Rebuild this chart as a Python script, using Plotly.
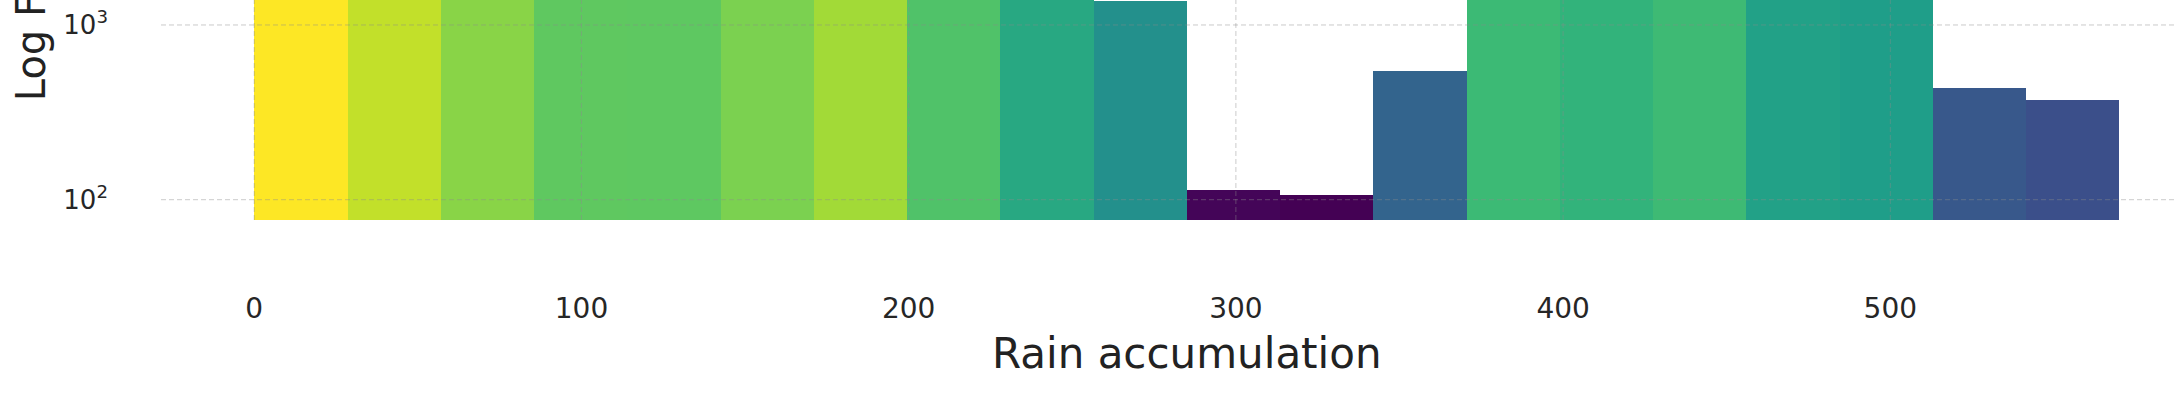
import numpy as np
import plotly.graph_objects as go

# ---- data ----
bin_left = [0, 28.5, 57, 85.5, 114, 142.5, 171, 199.5, 228, 256.5,
            285, 313.5, 342, 370.5, 399, 427.5, 456, 484.5, 513, 541.5]
bin_width = 28.5
counts = [17600, 11100, 7000, 4900, 4850, 6300, 8600, 4200, 2300, 1370,
          114, 107, 546, 3450, 2950, 3500, 1960, 1820, 434, 374]

x_ticks = [0, 100, 200, 300, 400, 500]
y_ticks = [100, 1000]
y_tick_text = ["10<sup>2</sup>", "10<sup>3</sup>"]
x_title = "Rain accumulation"
y_title = "Log Frequency"

logc = np.log10(counts)

fig = go.Figure(
    go.Bar(
        x=bin_left,
        y=counts,
        width=bin_width,
        offset=0,
        marker=dict(
            color=logc,
            colorscale="Viridis",
            cmin=float(logc.min()),
            cmax=float(logc.max()),
            line=dict(width=0),
        ),
        showlegend=False,
    )
)

grid_color = "rgba(140,140,140,0.45)"
grid_dash = "5px,3px"
shapes = []
for xv in x_ticks:
    shapes.append(dict(type="line", xref="x", yref="paper", x0=xv, x1=xv, y0=0, y1=1,
                       line=dict(color=grid_color, width=1, dash=grid_dash), layer="above"))
for yv in y_ticks:
    shapes.append(dict(type="line", xref="paper", yref="y", x0=0, x1=1, y0=yv, y1=yv,
                       line=dict(color=grid_color, width=1, dash=grid_dash), layer="above"))

fig.update_layout(
    width=2174,
    height=416,
    margin=dict(l=161, r=0, t=0, b=196, pad=0),
    paper_bgcolor="white",
    plot_bgcolor="white",
    bargap=0,
    font=dict(family="DejaVu Sans", color="#262626"),
    shapes=shapes,
    xaxis=dict(
        range=[-28.5, 586.7],
        tickvals=x_ticks,
        ticktext=[str(v) for v in x_ticks],
        showgrid=False,
        zeroline=False,
        showline=False,
        ticks="",
        ticklabelstandoff=69,
        tickfont=dict(size=28, color="#262626"),
    ),
    yaxis=dict(
        type="log",
        range=[1.8838, 3.143],
        tickvals=y_ticks,
        ticktext=y_tick_text,
        showgrid=False,
        zeroline=False,
        showline=False,
        ticks="",
        ticklabelstandoff=52,
        tickfont=dict(size=26, color="#262626"),
    ),
    annotations=[
        dict(text=x_title, xref="paper", yref="paper", x=0.5097, y=-0.606,
             xanchor="center", yanchor="middle", showarrow=False,
             font=dict(size=42, color="#222222")),
        dict(text=y_title, xref="paper", yref="paper", x=-0.0646, y=0.533,
             xanchor="center", yanchor="bottom", textangle=-90, showarrow=False,
             font=dict(size=40, color="#222222")),
    ],
)

fig.write_html(
    "out.html",
    config={"displayModeBar": False},
    post_script="document.body.style.margin='0';document.body.style.overflow='hidden';",
)
